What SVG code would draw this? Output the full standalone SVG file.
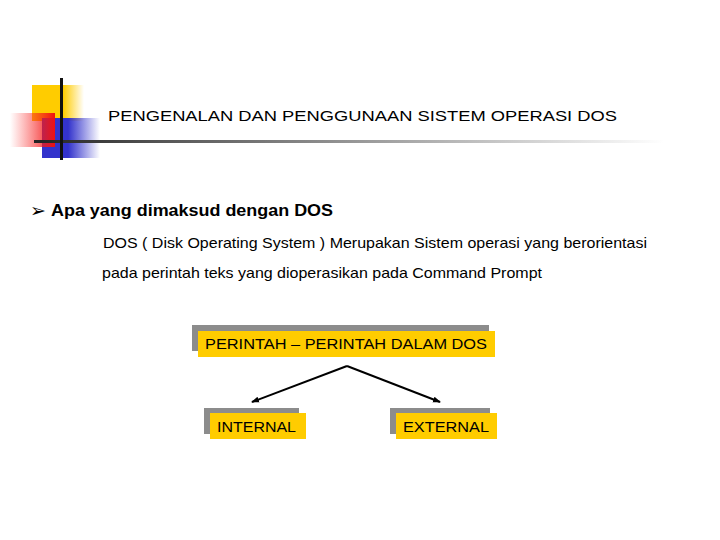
<svg xmlns="http://www.w3.org/2000/svg" width="720" height="540" viewBox="0 0 720 540">
<style>
.t{font-family:"Liberation Sans",Arial,sans-serif;fill:#000}
.shadow{fill:#8c8c8c}
.box{fill:#ffcc00}
.conn{stroke:#000;stroke-width:2;fill:none;marker-end:url(#ah)}
</style>
<defs>
<marker id="ah" markerWidth="8" markerHeight="8" refX="7" refY="4" orient="auto" markerUnits="userSpaceOnUse">
<path d="M0,1 L8,4 L0,7 Z" fill="#000"/>
</marker>
<linearGradient id="gy" x1="0" x2="1" y1="0" y2="0">
<stop offset="0" stop-color="#ffcc00"/><stop offset="0.6" stop-color="#ffcc00"/><stop offset="1" stop-color="#ffcc00" stop-opacity="0"/>
</linearGradient>
<linearGradient id="gr" x1="0" x2="1" y1="0" y2="0">
<stop offset="0" stop-color="#ff3333" stop-opacity="0"/><stop offset="1" stop-color="#ee1111"/>
</linearGradient>
<linearGradient id="gb" x1="0" x2="1" y1="0" y2="0">
<stop offset="0" stop-color="#3333cc"/><stop offset="0.45" stop-color="#3333cc"/><stop offset="1" stop-color="#3333cc" stop-opacity="0"/>
</linearGradient>
<linearGradient id="gl" x1="0" x2="1" y1="0" y2="0">
<stop offset="0" stop-color="#222"/><stop offset="0.2" stop-color="#555"/><stop offset="1" stop-color="#fff"/>
</linearGradient>
</defs>
<rect width="720" height="540" fill="#fff"/>
<g id="decor">
<rect x="32" y="85" width="52" height="36" fill="url(#gy)"/>
<rect x="42" y="118" width="58" height="40" fill="url(#gb)"/>
<rect x="10" y="113" width="45" height="34" fill="url(#gr)"/>
<rect x="34" y="140" width="630" height="3" fill="url(#gl)"/>
<rect x="60" y="78" width="3" height="82" fill="#111"/>
</g>
<text class="t" x="108" y="121" font-size="15.5" textLength="509" lengthAdjust="spacingAndGlyphs">PENGENALAN DAN PENGGUNAAN SISTEM OPERASI DOS</text>
<text x="30" y="217" font-size="19" font-family="DejaVu Sans,sans-serif">➢</text>
<text class="t" x="51" y="216" font-size="16" font-weight="bold" textLength="282" lengthAdjust="spacingAndGlyphs">Apa yang dimaksud dengan DOS</text>
<text class="t" x="103" y="248" font-size="14.5" textLength="544" lengthAdjust="spacingAndGlyphs">DOS ( Disk Operating System ) Merupakan Sistem operasi yang berorientasi</text>
<text class="t" x="102" y="278" font-size="14.5" textLength="440" lengthAdjust="spacingAndGlyphs">pada perintah teks yang dioperasikan pada Command Prompt</text>
<g id="n-perintah">
<rect class="shadow" x="192" y="325" width="297" height="26"/>
<rect class="box" x="198" y="331" width="297" height="26"/>
<text class="t" x="205" y="348.5" font-size="14" textLength="282" lengthAdjust="spacingAndGlyphs">PERINTAH – PERINTAH DALAM DOS</text>
</g>
<g id="n-internal">
<rect class="shadow" x="204" y="408" width="95" height="26"/>
<rect class="box" x="210" y="413" width="96" height="26"/>
<text class="t" x="217" y="432" font-size="14" textLength="79" lengthAdjust="spacingAndGlyphs">INTERNAL</text>
</g>
<g id="n-external">
<rect class="shadow" x="390" y="408" width="100" height="26"/>
<rect class="box" x="396" y="413" width="101" height="26"/>
<text class="t" x="403" y="432" font-size="14" textLength="86" lengthAdjust="spacingAndGlyphs">EXTERNAL</text>
</g>
<g id="connectors">
<line class="conn" x1="347" y1="366" x2="252" y2="402"/>
<line class="conn" x1="347" y1="366" x2="440" y2="402"/>
</g>
</svg>
